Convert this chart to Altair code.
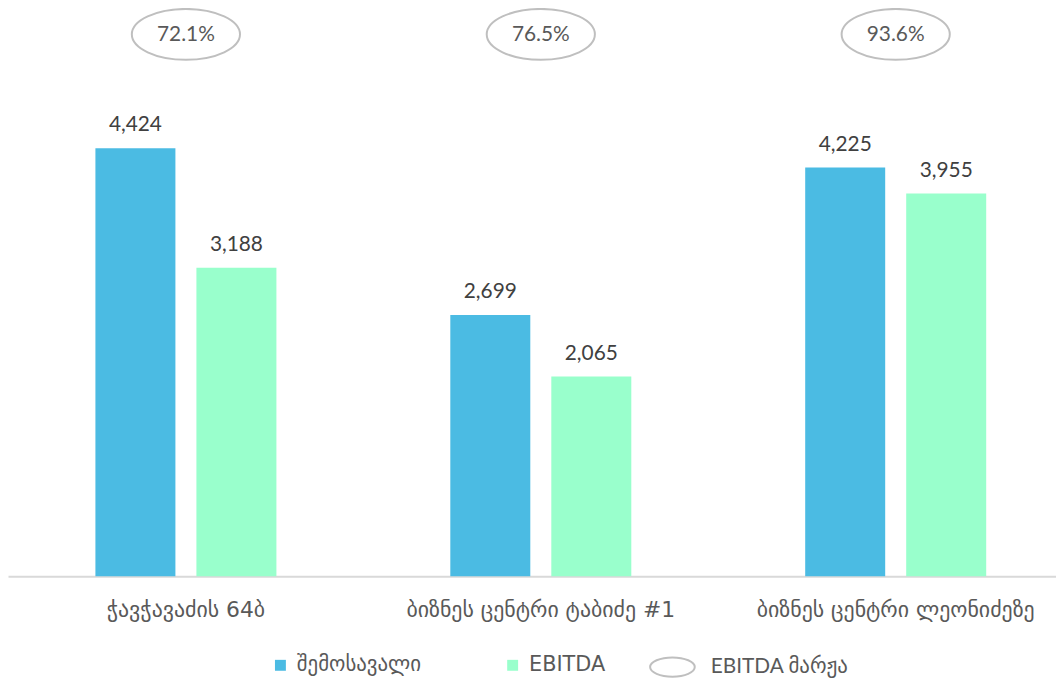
import altair as alt
import pandas as pd

categories = ["ჭავჭავაძის 64ბ", "ბიზნეს ცენტრი ტაბიძე #1", "ბიზნეს ცენტრი ლეონიძეზე"]
series_names = ["შემოსავალი", "EBITDA"]
revenue = [4424, 2699, 4225]
ebitda = [3188, 2065, 3955]
margin_pct = ["72.1%", "76.5%", "93.6%"]
margin_name = "EBITDA მარჟა"

BLUE = "#4BBBE3"
GREEN = "#99FFCC"
TXT = "#404040"
TXT2 = "#595959"
NUMFONT = "Lato, DejaVu Sans"
GEOFONT = "DejaVu Sans"

rows = []
for c, r, e in zip(categories, revenue, ebitda):
    rows.append({"cat": c, "series": series_names[0], "value": r, "label": f"{r:,}"})
    rows.append({"cat": c, "series": series_names[1], "value": e, "label": f"{e:,}"})
bars_df = pd.DataFrame(rows)
margin_df = pd.DataFrame({"cat": categories, "pct": margin_pct, "kind": [margin_name] * 3})


def ellipse_path(ry):
    k = 0.5523
    return (f"M -1,0 C -1,{-ry*k:.4f} {-k},{-ry} 0,{-ry} C {k},{-ry} 1,{-ry*k:.4f} 1,0 "
            f"C 1,{ry*k:.4f} {k},{ry} 0,{ry} C {-k},{ry} -1,{ry*k:.4f} -1,0 Z")


ELLIPSE = ellipse_path(0.47)
ELLIPSE_LEG = ellipse_path(0.43)

xscale = alt.Scale(domain=categories, paddingInner=0.49, paddingOuter=0.2215, align=0.556)
xenc = alt.X("cat:N", scale=xscale, sort=categories,
             axis=alt.Axis(title=None, ticks=False, grid=False, labelAngle=0,
                           domainColor="#D9D9D9", domainWidth=2,
                           labelFont=GEOFONT, labelFontSize=22, labelColor=TXT2,
                           labelPadding=24, labelLimit=400))
xoff = alt.XOffset("series:N", sort=series_names,
                   scale=alt.Scale(domain=series_names, paddingInner=0.208, paddingOuter=0))
yscale = alt.Scale(domain=[0, 5846], nice=False)

bars = alt.Chart(bars_df).mark_bar().encode(
    x=xenc,
    xOffset=xoff,
    y=alt.Y("value:Q", scale=yscale, axis=None),
    color=alt.Color("series:N", sort=series_names,
                    scale=alt.Scale(domain=series_names, range=[BLUE, GREEN]),
                    legend=alt.Legend(title=None, orient="none", legendX=264, legendY=649,
                                      direction="horizontal", symbolType="square",
                                      symbolSize=121, labelFont=GEOFONT, labelFontSize=21,
                                      labelColor=TXT2, labelOffset=6, columnPadding=81,
                                      padding=0)),
)

bar_labels = alt.Chart(bars_df).mark_text(
    baseline="alphabetic", dy=-17, font=NUMFONT, fontSize=21, color=TXT
).encode(
    x=alt.X("cat:N", scale=xscale, sort=categories),
    xOffset=xoff,
    y=alt.Y("value:Q", scale=yscale),
    text="label:N",
)

ellipses = alt.Chart(margin_df).mark_point(
    shape=ELLIPSE, size=11881, filled=False, strokeWidth=2, opacity=1
).encode(
    x=alt.X("cat:N", scale=xscale, sort=categories),
    y=alt.value(24),
    stroke=alt.Stroke("kind:N", scale=alt.Scale(range=["#BFBFBF"]),
                      legend=alt.Legend(title=None, orient="none", legendX=646, legendY=638,
                                        symbolType=ELLIPSE_LEG, symbolSize=2025,
                                        symbolStrokeWidth=2, labelFont=NUMFONT,
                                        labelFontSize=21, labelColor=TXT2,
                                        labelOffset=15, padding=0)),
)

pct_text = alt.Chart(margin_df).mark_text(
    baseline="middle", font=NUMFONT, fontSize=21, color=TXT2, dy=1
).encode(
    x=alt.X("cat:N", scale=xscale, sort=categories),
    y=alt.value(24),
    text="pct:N",
)

chart = alt.layer(bars, bar_labels, ellipses, pct_text).properties(
    width=1056, height=570,
    autosize=alt.AutoSizeParams(type="none"),
    padding={"left": 0, "top": 0, "right": 0, "bottom": 104},
).configure_view(stroke=None)

chart.save("out.html", embed_options={"renderer": "svg", "actions": False})
